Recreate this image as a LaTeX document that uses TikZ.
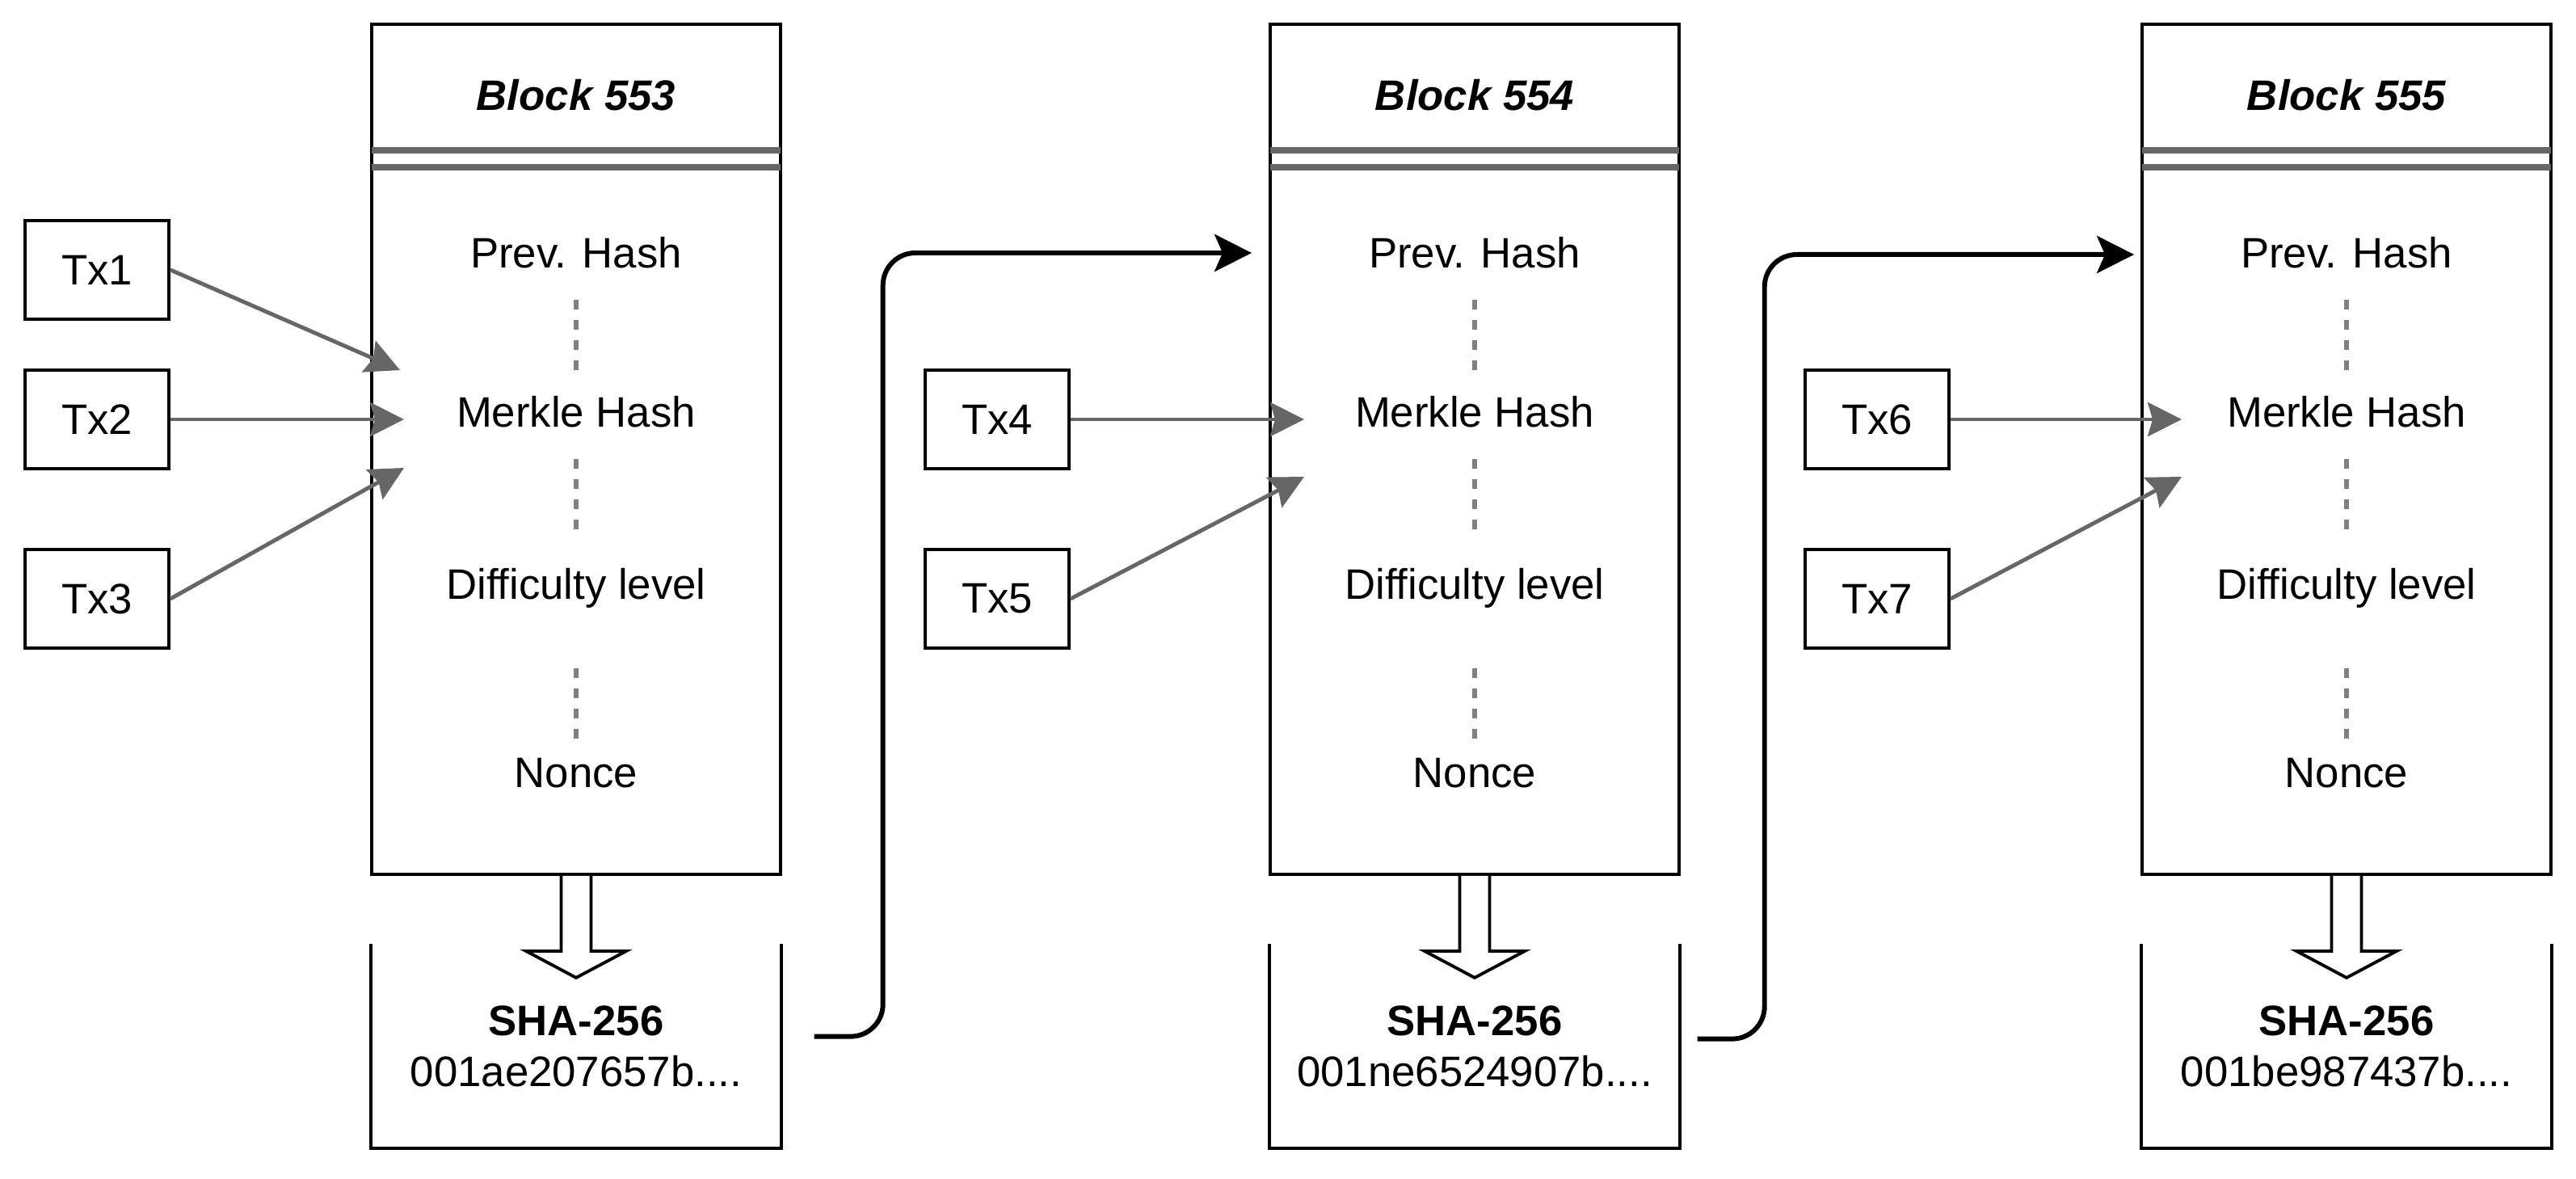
\documentclass[tikz,border=0pt]{standalone}
\usepackage{fontspec}
\setmainfont{Liberation Sans}
\usepackage{tikz}
\usetikzlibrary{positioning}
\usetikzlibrary{arrows.meta}
\definecolor{linegray}{HTML}{666666}
\definecolor{dotgray}{HTML}{808080}

\begin{document}
\begin{tikzpicture}[
  every node/.style={font=\fontsize{15}{18}\selectfont},
  block/.style={draw, line width=1.1pt, minimum width=5.06cm, minimum height=10.52cm, inner sep=0pt},
  title/.style={font=\fontsize{15}{18}\selectfont\bfseries\itshape},
  field/.style={inner sep=0pt, text height=0.75em, text depth=0.2em},
  tx/.style={draw, line width=1.1pt, minimum width=1.78cm, minimum height=1.22cm, inner sep=0pt},
  hash/.style={minimum width=5.06cm, minimum height=2.52cm, align=center, inner sep=0pt},
  hdr/.style={draw=linegray, line width=2.2pt, shorten <=0.6pt, shorten >=0.6pt},
  dots/.style={draw=dotgray, line width=1.8pt, dash pattern=on 3.4pt off 3.7pt, shorten <=0.32cm, shorten >=0.32cm},
  feed/.style={draw=linegray, line width=1.4pt, -{Stealth[length=0.42cm, width=0.42cm, inset=0.06cm]}},
  link/.style={draw, line width=1.7pt, rounded corners=0.4cm, -{Stealth[length=0.46cm, width=0.46cm, inset=0.1cm]}},
  hollow/.style={draw, line width=1.1pt, fill=white, line join=miter}
]
\useasboundingbox (0,0) rectangle (31.88,-14.59);

% blocks
\node[block] (b553) at (7.13,-5.56) {};
\node[block] (b554) at (18.25,-5.56) {};
\node[block] (b555) at (29.04,-5.56) {};

\node[title] (t553) at (7.13,-1.18) {Block 553};
\node[title] (t554) at (18.25,-1.18) {Block 554};
\node[title] (t555) at (29.04,-1.18) {Block 555};

\draw[hdr] ([yshift=-1.58cm]b553.north west) -- ([yshift=-1.58cm]b553.north east);
\draw[hdr] ([yshift=-1.79cm]b553.north west) -- ([yshift=-1.79cm]b553.north east);
\draw[hdr] ([yshift=-1.58cm]b554.north west) -- ([yshift=-1.58cm]b554.north east);
\draw[hdr] ([yshift=-1.79cm]b554.north west) -- ([yshift=-1.79cm]b554.north east);
\draw[hdr] ([yshift=-1.58cm]b555.north west) -- ([yshift=-1.58cm]b555.north east);
\draw[hdr] ([yshift=-1.79cm]b555.north west) -- ([yshift=-1.79cm]b555.north east);

% header fields
\node[field] (prev553) at (7.13,-3.22) {Prev. Hash};
\node[field] (merk553) at (7.13,-5.19) {Merkle Hash};
\node[field] (diff553) at (7.13,-7.32) {Difficulty level};
\node[field] (nonce553) at (7.13,-9.65) {Nonce};

\node[field] (prev554) at (18.25,-3.22) {Prev. Hash};
\node[field] (merk554) at (18.25,-5.19) {Merkle Hash};
\node[field] (diff554) at (18.25,-7.32) {Difficulty level};
\node[field] (nonce554) at (18.25,-9.65) {Nonce};

\node[field] (prev555) at (29.04,-3.22) {Prev. Hash};
\node[field] (merk555) at (29.04,-5.19) {Merkle Hash};
\node[field] (diff555) at (29.04,-7.32) {Difficulty level};
\node[field] (nonce555) at (29.04,-9.65) {Nonce};

\draw[dots] (prev553) -- (merk553);
\draw[dots, shorten >=0.55cm] (merk553) -- (diff553);
\draw[dots, shorten <=0.78cm] (diff553) -- (nonce553);
\draw[dots] (prev554) -- (merk554);
\draw[dots, shorten >=0.55cm] (merk554) -- (diff554);
\draw[dots, shorten <=0.78cm] (diff554) -- (nonce554);
\draw[dots] (prev555) -- (merk555);
\draw[dots, shorten >=0.55cm] (merk555) -- (diff555);
\draw[dots, shorten <=0.78cm] (diff555) -- (nonce555);

% hashes
\node[hash, below=0.84cm of b553] (sha553) {\textbf{SHA-256}\\001ae207657b....};
\node[hash, below=0.84cm of b554] (sha554) {\textbf{SHA-256}\\001ne6524907b....};
\node[hash, below=0.84cm of b555] (sha555) {\textbf{SHA-256}\\001be987437b....};

\draw[line width=1.1pt] (sha553.north west) -- (sha553.south west) -- (sha553.south east) -- (sha553.north east);
\draw[line width=1.1pt] (sha554.north west) -- (sha554.south west) -- (sha554.south east) -- (sha554.north east);
\draw[line width=1.1pt] (sha555.north west) -- (sha555.south west) -- (sha555.south east) -- (sha555.north east);

\draw[hollow] ([xshift=-0.185cm]b553.south) -- ++(0,-0.93) -- ++(-0.435,0) -- ++(0.62,-0.33) -- ++(0.62,0.33) -- ++(-0.435,0) -- ++(0,0.93);
\draw[hollow] ([xshift=-0.185cm]b554.south) -- ++(0,-0.93) -- ++(-0.435,0) -- ++(0.62,-0.33) -- ++(0.62,0.33) -- ++(-0.435,0) -- ++(0,0.93);
\draw[hollow] ([xshift=-0.185cm]b555.south) -- ++(0,-0.93) -- ++(-0.435,0) -- ++(0.62,-0.33) -- ++(0.62,0.33) -- ++(-0.435,0) -- ++(0,0.93);

% transactions
\node[tx] (tx1) at (1.20,-3.34) {Tx1};
\node[tx] (tx2) at (1.20,-5.19) {Tx2};
\node[tx] (tx3) at (1.20,-7.41) {Tx3};
\node[tx] (tx4) at (12.34,-5.19) {Tx4};
\node[tx] (tx5) at (12.34,-7.41) {Tx5};
\node[tx] (tx6) at (23.23,-5.19) {Tx6};
\node[tx] (tx7) at (23.23,-7.41) {Tx7};

\coordinate (in553a) at (4.95,-4.58);
\coordinate (in553b) at (5.00,-5.19);
\coordinate (in553c) at (5.00,-5.79);
\coordinate (in554b) at (16.14,-5.19);
\coordinate (in554c) at (16.14,-5.90);
\coordinate (in555b) at (27.00,-5.19);
\coordinate (in555c) at (27.00,-5.90);

\draw[feed] (tx1.east) -- (in553a);
\draw[feed] (tx2.east) -- (in553b);
\draw[feed] (tx3.east) -- (in553c);
\draw[feed] (tx4.east) -- (in554b);
\draw[feed] (tx5.east) -- (in554c);
\draw[feed] (tx6.east) -- (in555b);
\draw[feed] (tx7.east) -- (in555c);

% chain links
\draw[link] ([xshift=0.41cm,yshift=0.12cm]sha553.east) -- ++(0.85,0) |- ([xshift=-0.21cm,yshift=2.43cm]b554.west);
\draw[link] ([xshift=0.22cm,yshift=0.09cm]sha554.east) -- ++(0.83,0) |- ([xshift=-0.08cm,yshift=2.41cm]b555.west);
\end{tikzpicture}
\end{document}
